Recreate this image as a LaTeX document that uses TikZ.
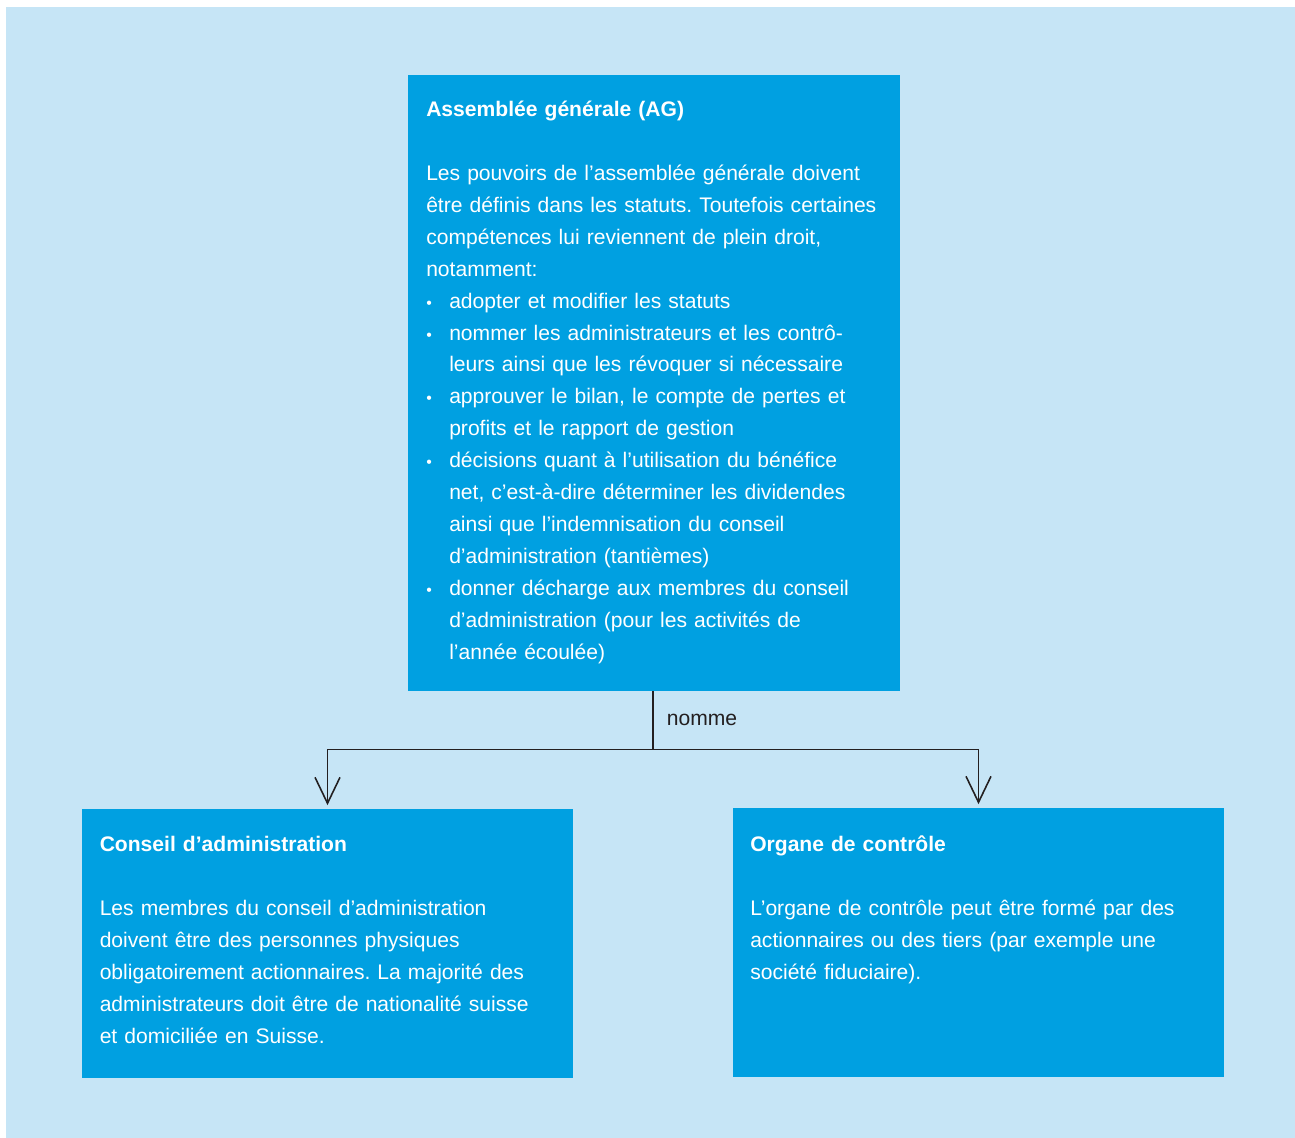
\documentclass[tikz,border=0pt]{standalone}
\usepackage{fontspec}
\setmainfont{Liberation Sans}
\usetikzlibrary{positioning,arrows.meta}

\definecolor{fondclair}{HTML}{C6E5F6}
\definecolor{bleuboite}{HTML}{00A0E1}
\definecolor{trait}{HTML}{231F20}

\newcommand{\puce}{\makebox[0.46cm][l]{\small•}}
\newcommand{\retrait}{\hspace*{0.46cm}}
\frenchspacing

\begin{document}
\begin{tikzpicture}[
    boite/.style={rectangle, fill=bleuboite, inner sep=0pt, minimum width=9.83cm},
    texte/.style={text=white, text width=11cm, align=left, inner sep=0pt, anchor=base west,
        font=\fontsize{12pt}{18.2pt}\selectfont},
    fleche/.style={draw=trait, line width=0.9pt, -{Straight Barb[length=0.52cm, width=0.5cm]}, shorten >=0.07cm}
]
\useasboundingbox (0,0) rectangle (25.9,22.76);
\fill[fondclair] (0.12,0) rectangle (25.9,22.62);

% Main boxes
\node (ag) [boite, minimum height=12.32cm] at (13.08,15.10) {};
\node (conseil) [boite, minimum height=5.38cm] at (6.55,3.89) {};
\node (organe) [boite, minimum height=5.38cm] at (19.57,3.91) {};

% Texts in the boxes
\node (agtexte) [texte] at ([xshift=0.36cm, yshift=-0.83cm]ag.north west)
    {\textbf{Assemblée générale (AG)}\\[18.2pt]
    Les pouvoirs de l’assemblée générale doivent\\
    être définis dans les statuts. Toutefois certaines\\
    compétences lui reviennent de plein droit,\\
    notamment:\\
    \puce adopter et modifier les statuts\\
    \puce nommer les administrateurs et les contrô-\\
    \retrait leurs ainsi que les révoquer si nécessaire\\
    \puce approuver le bilan, le compte de pertes et\\
    \retrait profits et le rapport de gestion\\
    \puce décisions quant à l’utilisation du bénéfice\\
    \retrait net, c’est-à-dire déterminer les dividendes\\
    \retrait ainsi que l’indemnisation du conseil\\
    \retrait d’administration (tantièmes)\\
    \puce donner décharge aux membres du conseil\\
    \retrait d’administration (pour les activités de\\
    \retrait l’année écoulée)};

\node (conseiltexte) [texte] at ([xshift=0.36cm, yshift=-0.85cm]conseil.north west)
    {\textbf{Conseil d’administration}\\[18.2pt]
    Les membres du conseil d’administration\\
    doivent être des personnes physiques\\
    obligatoirement actionnaires. La majorité des\\
    administrateurs doit être de nationalité suisse\\
    et domiciliée en Suisse.};

\node (organetexte) [texte] at ([xshift=0.35cm, yshift=-0.87cm]organe.north west)
    {\textbf{Organe de contrôle}\\[18.2pt]
    L’organe de contrôle peut être formé par des\\
    actionnaires ou des tiers (par exemple une\\
    société fiduciaire).};

% Connectors
\coordinate (partage) at ([xshift=-0.02cm, yshift=-1.16cm]ag.south);
\draw [fleche] ([xshift=-0.02cm]ag.south) -- node[right=0.26cm, inner sep=0pt, text=trait, font=\fontsize{12pt}{18.2pt}\selectfont] (nomme) {nomme} (partage) -| (conseil.north);
\draw [fleche] (partage) -| (organe.north);
\end{tikzpicture}
\end{document}
